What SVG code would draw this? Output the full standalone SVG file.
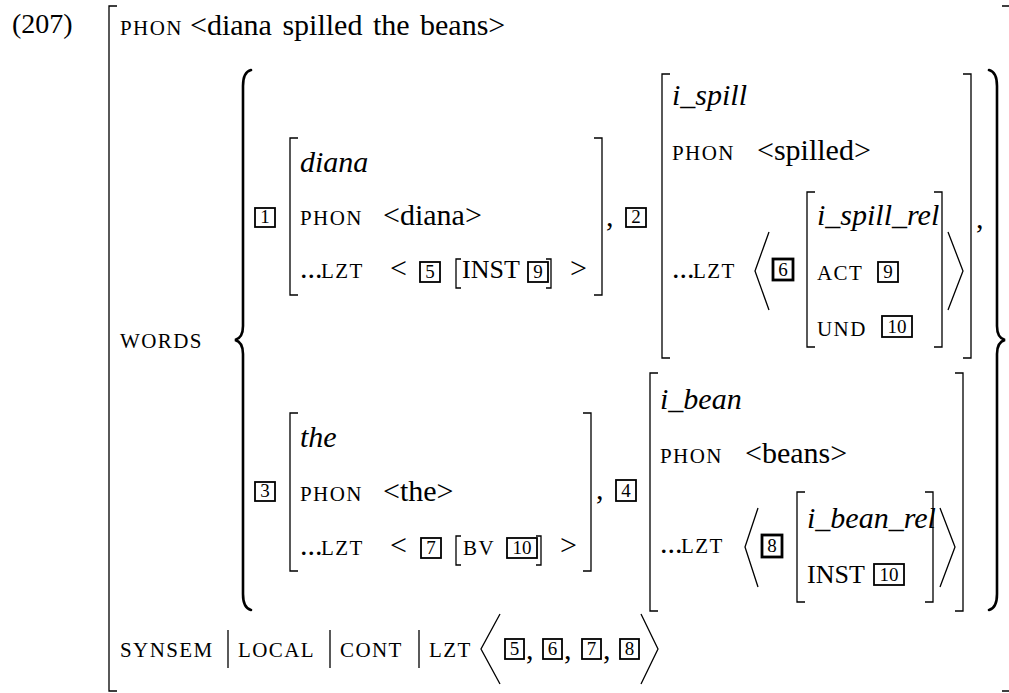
<svg xmlns="http://www.w3.org/2000/svg" width="1009" height="693" viewBox="0 0 1009 693">
  <style>
    text { font-family: "Liberation Serif", "Times New Roman", serif; fill: #000; }
    .t { font-size: 30px; }
    .it { font-size: 30px; font-style: italic; }
    .sc { font-size: 21px; letter-spacing: 1.4px; }
    .caps { font-size: 26px; }
    .n { font-size: 19px; text-anchor: middle; }
    .br { fill: none; stroke: #000; stroke-width: 1.3; }
    .ang { fill: none; stroke: #000; stroke-width: 1.3; }
    .brace { fill: none; stroke: #000; stroke-width: 2.6; stroke-linecap: round; }
    .box { fill: none; stroke: #000; stroke-width: 1.8; }
    .boxb { fill: none; stroke: #000; stroke-width: 2.8; }
    .bar { stroke: #000; stroke-width: 1.3; }
  </style>

  <!-- example number -->
  <text id="label" class="t" x="12" y="33" style="font-size:28px">(207)</text>

  <!-- outermost AVM brackets -->
  <g id="outer">
    <path class="br" d="M117,6 H109 V691 H117"/>
    <path class="br" d="M1002,6 H1010 V691 H1002"/>
  </g>

  <!-- PHON of the phrase -->
  <g id="phon-row">
    <text class="sc" x="120" y="35">PHON</text>
    <text class="t" x="190" y="35" style="word-spacing:3px">&lt;diana spilled the beans&gt;</text>
  </g>

  <!-- WORDS set -->
  <g id="words">
    <text class="sc" x="120" y="348">WORDS</text>
    <path class="brace" d="M251,70 Q243,72 243,86 V326 Q243,338 235,340 Q243,342 243,354 V594 Q243,608 251,610"/>
    <path class="brace" d="M989,70 Q997,72 997,86 V326 Q997,338 1005,340 Q997,342 997,354 V594 Q997,608 989,610"/>
  </g>

  <!-- word 1: diana -->
  <g id="word-diana">
    <rect class="box" x="255" y="208" width="20" height="19"/>
    <text class="n" x="265" y="223">1</text>
    <path class="br" d="M298,138 H290 V295 H298"/>
    <path class="br" d="M594,138 H602 V295 H594"/>
    <text class="it" x="300" y="172">diana</text>
    <text class="sc" x="300" y="225">PHON</text>
    <text class="t" x="383" y="225">&lt;diana&gt;</text>
    <text class="t" x="300" y="278">...</text>
    <text class="sc" x="321" y="278">LZT</text>
    <text class="t" x="390" y="278">&lt;</text>
    <rect class="box" x="420" y="262" width="20" height="20"/>
    <text class="n" x="430" y="278">5</text>
    <path class="br" d="M461,259 H456 V288 H461"/>
    <text class="caps" x="462" y="278">INST</text>
    <rect class="box" x="528" y="262" width="20" height="20"/>
    <text class="n" x="538" y="278">9</text>
    <path class="br" d="M546,259 H551 V288 H546"/>
    <text class="t" x="570" y="278">&gt;</text>
    <text class="t" x="606" y="226">,</text>
    <rect class="box" x="626" y="208" width="20" height="19"/>
    <text class="n" x="636" y="223">2</text>
  </g>

  <!-- word 2: spilled -->
  <g id="word-spilled">
    <path class="br" d="M670,74 H662 V358 H670"/>
    <path class="br" d="M963,74 H971 V358 H963"/>
    <text class="it" x="672" y="105">i_spill</text>
    <text class="sc" x="672" y="160">PHON</text>
    <text class="t" x="757" y="160">&lt;spilled&gt;</text>
    <text class="t" x="672" y="278">...</text>
    <text class="sc" x="693" y="278">LZT</text>
    <polyline class="ang" points="769,232 755,271 769,310"/>
    <rect class="boxb" x="773" y="259" width="20" height="21"/>
    <text class="n" x="783" y="276">6</text>
    <path class="br" d="M815,192 H807 V347 H815"/>
    <path class="br" d="M934,192 H942 V347 H934"/>
    <text class="it" x="817" y="225">i_spill_rel</text>
    <text class="sc" x="817" y="280">ACT</text>
    <rect class="box" x="878" y="262" width="20" height="20"/>
    <text class="n" x="888" y="278">9</text>
    <text class="sc" x="817" y="336">UND</text>
    <rect class="box" x="882" y="316" width="30" height="21"/>
    <text class="n" x="897" y="333">10</text>
    <polyline class="ang" points="948,232 963,271 948,310"/>
    <text class="t" x="976" y="228">,</text>
  </g>

  <!-- word 3: the -->
  <g id="word-the">
    <rect class="box" x="255" y="482" width="20" height="19"/>
    <text class="n" x="265" y="497">3</text>
    <path class="br" d="M298,413 H290 V571 H298"/>
    <path class="br" d="M583,413 H591 V571 H583"/>
    <text class="it" x="300" y="447">the</text>
    <text class="sc" x="300" y="501">PHON</text>
    <text class="t" x="383" y="501">&lt;the&gt;</text>
    <text class="t" x="300" y="555">...</text>
    <text class="sc" x="321" y="555">LZT</text>
    <text class="t" x="390" y="555">&lt;</text>
    <rect class="box" x="421" y="538" width="20" height="20"/>
    <text class="n" x="431" y="554">7</text>
    <path class="br" d="M461,536 H456 V565 H461"/>
    <text class="sc" x="463" y="555">BV</text>
    <rect class="box" x="507" y="538" width="30" height="20"/>
    <text class="n" x="522" y="554">10</text>
    <path class="br" d="M536,536 H541 V565 H536"/>
    <text class="t" x="560" y="555">&gt;</text>
    <text class="t" x="596" y="499">,</text>
    <rect class="box" x="616" y="480" width="20" height="21"/>
    <text class="n" x="626" y="497">4</text>
  </g>

  <!-- word 4: beans -->
  <g id="word-beans">
    <path class="br" d="M658,373 H650 V611 H658"/>
    <path class="br" d="M955,373 H963 V611 H955"/>
    <text class="it" x="660" y="409">i_bean</text>
    <text class="sc" x="660" y="463">PHON</text>
    <text class="t" x="745" y="463">&lt;beans&gt;</text>
    <text class="t" x="660" y="553">...</text>
    <text class="sc" x="681" y="553">LZT</text>
    <polyline class="ang" points="758,508 745,547 758,587"/>
    <rect class="boxb" x="762" y="535" width="20" height="22"/>
    <text class="n" x="772" y="552">8</text>
    <path class="br" d="M805,492 H797 V602 H805"/>
    <path class="br" d="M925,492 H933 V602 H925"/>
    <text class="it" x="807" y="528">i_bean_rel</text>
    <text class="caps" x="807" y="583">INST</text>
    <rect class="box" x="874" y="564" width="30" height="21"/>
    <text class="n" x="889" y="581">10</text>
    <polyline class="ang" points="940,508 955,547 940,587"/>
  </g>

  <!-- SYNSEM|LOCAL|CONT|LZT path -->
  <g id="lzt-row">
    <text class="sc" x="120" y="657">SYNSEM</text>
    <line class="bar" x1="228" y1="630" x2="228" y2="668"/>
    <text class="sc" x="238" y="657">LOCAL</text>
    <line class="bar" x1="330" y1="630" x2="330" y2="668"/>
    <text class="sc" x="340" y="657">CONT</text>
    <line class="bar" x1="419" y1="630" x2="419" y2="668"/>
    <text class="sc" x="429" y="657">LZT</text>
    <polyline class="ang" points="500,614 481,649 500,684"/>
    <rect class="box" x="505" y="639" width="19" height="20"/>
    <text class="n" x="514.5" y="655">5</text>
    <text class="t" x="526" y="659">,</text>
    <rect class="box" x="543" y="639" width="19" height="20"/>
    <text class="n" x="552.5" y="655">6</text>
    <text class="t" x="564" y="659">,</text>
    <rect class="box" x="582" y="639" width="19" height="20"/>
    <text class="n" x="591.5" y="655">7</text>
    <text class="t" x="603" y="659">,</text>
    <rect class="box" x="620" y="639" width="19" height="20"/>
    <text class="n" x="629.5" y="655">8</text>
    <polyline class="ang" points="641,614 658,649 641,684"/>
  </g>
</svg>
